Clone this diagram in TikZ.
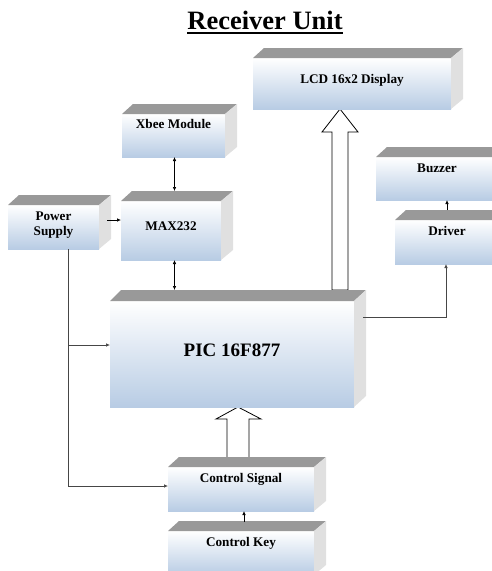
\documentclass[tikz,border=0pt]{standalone}
\usepackage{fontspec}
\setmainfont{Liberation Serif}
\usetikzlibrary{arrows.meta,calc}
\definecolor{boxblue}{RGB}{184,204,228}
\definecolor{topgray}{RGB}{153,153,153}
\definecolor{sidegray}{RGB}{224,224,224}
\definecolor{linegray}{RGB}{70,70,70}
\tikzset{
  frontbox/.style={inner sep=0pt,outer sep=0pt,top color=white,bottom color=boxblue,shading angle=0},
  lbl/.style={font=\bfseries\fontsize{13.2}{15}\selectfont,anchor=base,inner sep=0pt,align=center},
  conn/.style={draw=black,line width=0.7pt},
  tipe/.style={-{Latex[length=4pt,width=3.6pt]}},
  dtip/.style={{Latex[length=4pt,width=3.6pt]}-{Latex[length=4pt,width=3.6pt]}},
  bigarrow/.style={draw=black,fill=white,line width=0.8pt,line join=miter},
}
\newcommand\tdbox[7]{%
  \node[frontbox,minimum width=#4pt,minimum height=#5pt,anchor=north west] (#1) at (#2,#3) {};
  \fill[topgray] (#1.north west) -- ++(11,-10) -- ([shift={(12,-10)}]#1.north east) -- (#1.north east) -- cycle;
  \fill[sidegray] (#1.north east) -- ++(12,-10) -- ([shift={(12,-10)}]#1.south east) -- (#1.south east) -- cycle;
  \node[lbl] (#1-t) at ($(#1.north)+(0,#6)$) {#7};
}
\begin{document}
\begin{tikzpicture}[x=1pt,y=-1pt]
\useasboundingbox (0,0) rectangle (491,571);
% title
\node[font=\bfseries\fontsize{26.5}{30}\selectfont,anchor=base,inner sep=0pt] (title) at (265,29.5) {Receiver Unit};
\draw[line width=1.6pt] ($(title.base west)+(0,3.5)$) -- ($(title.base east)+(0,3.5)$);

% big hollow arrows (drawn first)
\draw[bigarrow] (332,290) -- (332,132) -- (322,132) -- (340,109) -- (358,132) -- (348,132) -- (348,290) -- cycle;
\draw[bigarrow] (227,458) -- (227,419) -- (216,419) -- (238,407) -- (261,419) -- (249,419) -- (249,458) -- cycle;

% boxes
\tdbox{lcd}{253}{58}{198}{51}{25}{LCD 16x2 Display}
\tdbox{xbee}{122}{114}{103}{43}{14}{Xbee Module}
\tdbox{max}{121}{201}{100}{59}{29}{MAX232}
\tdbox{pwr}{8}{205}{91}{44}{30}{Power\\Supply}
\tdbox{buz}{376}{157}{122}{43}{15}{Buzzer}
\tdbox{drv}{395}{220}{104}{44}{15}{Driver}
\node[frontbox,minimum width=244pt,minimum height=106pt,anchor=north west] (pic) at (110,301) {};
\fill[topgray] (pic.north west) -- ++(11,-11) -- ([shift={(12,-11)}]pic.north east) -- (pic.north east) -- cycle;
\fill[sidegray] (pic.north east) -- ++(12,-11) -- ([shift={(12,-11)}]pic.south east) -- (pic.south east) -- cycle;
\node[lbl,font=\bfseries\fontsize{19}{22}\selectfont] (pic-t) at ($(pic.north)+(0,55)$) {PIC 16F877};
\tdbox{csig}{168}{467}{146}{44}{15}{Control Signal}
\tdbox{ckey}{168}{531}{146}{44}{15}{Control Key}

% small connectors
\draw[conn,dtip] ($(xbee.south)+(1,0)$) coordinate (xb) -- ($(xb |- max.north)+(0,-10)$);
\draw[conn,dtip] ($(xb |- max.south)$) -- ($(xb |- pic.north)+(0,-11)$);
\draw[conn,tipe] ($(pwr.north east)+(8,15)$) coordinate (pa) -- (pa -| max.west);
\draw[conn,tipe] ($(ckey.north)+(3,-9)$) coordinate (ck) -- (ck |- csig.south);
\draw[conn,tipe] ($(drv.north)+(0,-10)$) coordinate (dv) -- (dv |- buz.south);

% power distribution lines
\draw[conn,draw=linegray] ($(pwr.south west)+(60,0)$) coordinate (pv) -- (pv |- 0,486) coordinate (pb);
\draw[conn,draw=linegray,tipe] (pv |- 0,345) -- (pic.west |- 0,345);
\draw[conn,draw=linegray,tipe] (pb) -- (csig.west |- pb);

% PIC to driver
\draw[conn,draw=linegray,tipe] ($(pic.north east)+(9,16)$) -- (446,317) -- (drv.south -| 446,0);
\end{tikzpicture}
\end{document}
